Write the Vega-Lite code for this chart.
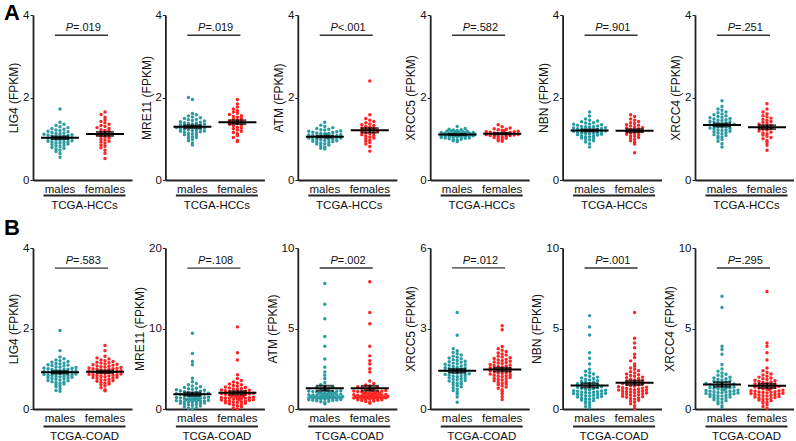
{
"$schema":"https://vega.github.io/schema/vega-lite/v6.json",
"padding":{"left":4,"top":2,"right":0,"bottom":0},
"datasets":{
"hLIG4":[{"sex":"m","fpkm":0.55},{"sex":"m","fpkm":0.64},{"sex":"m","fpkm":0.69},{"sex":"m","fpkm":0.72},{"sex":"m","fpkm":0.75},{"sex":"m","fpkm":0.77},{"sex":"m","fpkm":0.79},{"sex":"m","fpkm":0.81},{"sex":"m","fpkm":0.83},{"sex":"m","fpkm":0.84},{"sex":"m","fpkm":0.86},{"sex":"m","fpkm":0.87},{"sex":"m","fpkm":0.89},{"sex":"m","fpkm":0.9},{"sex":"m","fpkm":0.91},{"sex":"m","fpkm":0.92},{"sex":"m","fpkm":0.93},{"sex":"m","fpkm":0.94},{"sex":"m","fpkm":0.95},{"sex":"m","fpkm":0.96},{"sex":"m","fpkm":0.97},{"sex":"m","fpkm":0.98},{"sex":"m","fpkm":0.99},{"sex":"m","fpkm":1.0},{"sex":"m","fpkm":1.01},{"sex":"m","fpkm":1.03},{"sex":"m","fpkm":1.04},{"sex":"m","fpkm":1.05},{"sex":"m","fpkm":1.06},{"sex":"m","fpkm":1.07},{"sex":"m","fpkm":1.08},{"sex":"m","fpkm":1.09},{"sex":"m","fpkm":1.1},{"sex":"m","fpkm":1.11},{"sex":"m","fpkm":1.12},{"sex":"m","fpkm":1.13},{"sex":"m","fpkm":1.14},{"sex":"m","fpkm":1.15},{"sex":"m","fpkm":1.17},{"sex":"m","fpkm":1.18},{"sex":"m","fpkm":1.2},{"sex":"m","fpkm":1.21},{"sex":"m","fpkm":1.23},{"sex":"m","fpkm":1.25},{"sex":"m","fpkm":1.27},{"sex":"m","fpkm":1.29},{"sex":"m","fpkm":1.32},{"sex":"m","fpkm":1.35},{"sex":"m","fpkm":1.4},{"sex":"m","fpkm":1.72},
{"sex":"f","fpkm":0.52},{"sex":"f","fpkm":0.65},{"sex":"f","fpkm":0.72},{"sex":"f","fpkm":0.78},{"sex":"f","fpkm":0.82},{"sex":"f","fpkm":0.85},{"sex":"f","fpkm":0.89},{"sex":"f","fpkm":0.92},{"sex":"f","fpkm":0.94},{"sex":"f","fpkm":0.97},{"sex":"f","fpkm":0.99},{"sex":"f","fpkm":1.02},{"sex":"f","fpkm":1.04},{"sex":"f","fpkm":1.06},{"sex":"f","fpkm":1.09},{"sex":"f","fpkm":1.11},{"sex":"f","fpkm":1.13},{"sex":"f","fpkm":1.15},{"sex":"f","fpkm":1.18},{"sex":"f","fpkm":1.2},{"sex":"f","fpkm":1.22},{"sex":"f","fpkm":1.25},{"sex":"f","fpkm":1.27},{"sex":"f","fpkm":1.3},{"sex":"f","fpkm":1.32},{"sex":"f","fpkm":1.35},{"sex":"f","fpkm":1.39},{"sex":"f","fpkm":1.42},{"sex":"f","fpkm":1.46},{"sex":"f","fpkm":1.52},{"sex":"f","fpkm":1.59},{"sex":"f","fpkm":1.65}],
"hMRE11":[{"sex":"m","fpkm":0.85},{"sex":"m","fpkm":0.9},{"sex":"m","fpkm":0.95},{"sex":"m","fpkm":0.98},{"sex":"m","fpkm":1.01},{"sex":"m","fpkm":1.03},{"sex":"m","fpkm":1.05},{"sex":"m","fpkm":1.07},{"sex":"m","fpkm":1.09},{"sex":"m","fpkm":1.1},{"sex":"m","fpkm":1.12},{"sex":"m","fpkm":1.13},{"sex":"m","fpkm":1.15},{"sex":"m","fpkm":1.16},{"sex":"m","fpkm":1.17},{"sex":"m","fpkm":1.18},{"sex":"m","fpkm":1.19},{"sex":"m","fpkm":1.2},{"sex":"m","fpkm":1.21},{"sex":"m","fpkm":1.22},{"sex":"m","fpkm":1.23},{"sex":"m","fpkm":1.24},{"sex":"m","fpkm":1.25},{"sex":"m","fpkm":1.26},{"sex":"m","fpkm":1.27},{"sex":"m","fpkm":1.29},{"sex":"m","fpkm":1.3},{"sex":"m","fpkm":1.31},{"sex":"m","fpkm":1.32},{"sex":"m","fpkm":1.33},{"sex":"m","fpkm":1.34},{"sex":"m","fpkm":1.35},{"sex":"m","fpkm":1.36},{"sex":"m","fpkm":1.37},{"sex":"m","fpkm":1.38},{"sex":"m","fpkm":1.39},{"sex":"m","fpkm":1.4},{"sex":"m","fpkm":1.41},{"sex":"m","fpkm":1.43},{"sex":"m","fpkm":1.44},{"sex":"m","fpkm":1.46},{"sex":"m","fpkm":1.47},{"sex":"m","fpkm":1.49},{"sex":"m","fpkm":1.51},{"sex":"m","fpkm":1.53},{"sex":"m","fpkm":1.55},{"sex":"m","fpkm":1.58},{"sex":"m","fpkm":1.61},{"sex":"m","fpkm":1.95},{"sex":"m","fpkm":2.0},
{"sex":"f","fpkm":0.93},{"sex":"f","fpkm":0.96},{"sex":"f","fpkm":1.03},{"sex":"f","fpkm":1.08},{"sex":"f","fpkm":1.12},{"sex":"f","fpkm":1.15},{"sex":"f","fpkm":1.18},{"sex":"f","fpkm":1.21},{"sex":"f","fpkm":1.24},{"sex":"f","fpkm":1.26},{"sex":"f","fpkm":1.28},{"sex":"f","fpkm":1.31},{"sex":"f","fpkm":1.33},{"sex":"f","fpkm":1.35},{"sex":"f","fpkm":1.37},{"sex":"f","fpkm":1.39},{"sex":"f","fpkm":1.41},{"sex":"f","fpkm":1.43},{"sex":"f","fpkm":1.45},{"sex":"f","fpkm":1.47},{"sex":"f","fpkm":1.49},{"sex":"f","fpkm":1.52},{"sex":"f","fpkm":1.54},{"sex":"f","fpkm":1.56},{"sex":"f","fpkm":1.59},{"sex":"f","fpkm":1.62},{"sex":"f","fpkm":1.65},{"sex":"f","fpkm":1.68},{"sex":"f","fpkm":1.72},{"sex":"f","fpkm":1.77},{"sex":"f","fpkm":1.84},{"sex":"f","fpkm":1.95}],
"hATM":[{"sex":"m","fpkm":0.75},{"sex":"m","fpkm":0.77},{"sex":"m","fpkm":0.8},{"sex":"m","fpkm":0.83},{"sex":"m","fpkm":0.85},{"sex":"m","fpkm":0.87},{"sex":"m","fpkm":0.88},{"sex":"m","fpkm":0.89},{"sex":"m","fpkm":0.91},{"sex":"m","fpkm":0.92},{"sex":"m","fpkm":0.93},{"sex":"m","fpkm":0.94},{"sex":"m","fpkm":0.95},{"sex":"m","fpkm":0.96},{"sex":"m","fpkm":0.97},{"sex":"m","fpkm":0.98},{"sex":"m","fpkm":0.98},{"sex":"m","fpkm":0.99},{"sex":"m","fpkm":1.0},{"sex":"m","fpkm":1.01},{"sex":"m","fpkm":1.02},{"sex":"m","fpkm":1.02},{"sex":"m","fpkm":1.03},{"sex":"m","fpkm":1.04},{"sex":"m","fpkm":1.05},{"sex":"m","fpkm":1.05},{"sex":"m","fpkm":1.06},{"sex":"m","fpkm":1.07},{"sex":"m","fpkm":1.08},{"sex":"m","fpkm":1.08},{"sex":"m","fpkm":1.09},{"sex":"m","fpkm":1.1},{"sex":"m","fpkm":1.11},{"sex":"m","fpkm":1.12},{"sex":"m","fpkm":1.13},{"sex":"m","fpkm":1.13},{"sex":"m","fpkm":1.14},{"sex":"m","fpkm":1.15},{"sex":"m","fpkm":1.16},{"sex":"m","fpkm":1.17},{"sex":"m","fpkm":1.18},{"sex":"m","fpkm":1.19},{"sex":"m","fpkm":1.21},{"sex":"m","fpkm":1.22},{"sex":"m","fpkm":1.23},{"sex":"m","fpkm":1.25},{"sex":"m","fpkm":1.27},{"sex":"m","fpkm":1.3},{"sex":"m","fpkm":1.33},{"sex":"m","fpkm":1.4},
{"sex":"f","fpkm":0.7},{"sex":"f","fpkm":0.81},{"sex":"f","fpkm":0.87},{"sex":"f","fpkm":0.91},{"sex":"f","fpkm":0.94},{"sex":"f","fpkm":0.97},{"sex":"f","fpkm":1.0},{"sex":"f","fpkm":1.02},{"sex":"f","fpkm":1.04},{"sex":"f","fpkm":1.06},{"sex":"f","fpkm":1.08},{"sex":"f","fpkm":1.1},{"sex":"f","fpkm":1.12},{"sex":"f","fpkm":1.14},{"sex":"f","fpkm":1.15},{"sex":"f","fpkm":1.17},{"sex":"f","fpkm":1.19},{"sex":"f","fpkm":1.21},{"sex":"f","fpkm":1.22},{"sex":"f","fpkm":1.24},{"sex":"f","fpkm":1.26},{"sex":"f","fpkm":1.28},{"sex":"f","fpkm":1.3},{"sex":"f","fpkm":1.32},{"sex":"f","fpkm":1.34},{"sex":"f","fpkm":1.36},{"sex":"f","fpkm":1.39},{"sex":"f","fpkm":1.42},{"sex":"f","fpkm":1.45},{"sex":"f","fpkm":1.49},{"sex":"f","fpkm":1.58},{"sex":"f","fpkm":2.4}],
"hXRCC5":[{"sex":"m","fpkm":0.93},{"sex":"m","fpkm":0.95},{"sex":"m","fpkm":0.97},{"sex":"m","fpkm":0.98},{"sex":"m","fpkm":0.99},{"sex":"m","fpkm":1.0},{"sex":"m","fpkm":1.01},{"sex":"m","fpkm":1.02},{"sex":"m","fpkm":1.02},{"sex":"m","fpkm":1.03},{"sex":"m","fpkm":1.04},{"sex":"m","fpkm":1.04},{"sex":"m","fpkm":1.05},{"sex":"m","fpkm":1.05},{"sex":"m","fpkm":1.06},{"sex":"m","fpkm":1.06},{"sex":"m","fpkm":1.07},{"sex":"m","fpkm":1.07},{"sex":"m","fpkm":1.07},{"sex":"m","fpkm":1.08},{"sex":"m","fpkm":1.08},{"sex":"m","fpkm":1.09},{"sex":"m","fpkm":1.09},{"sex":"m","fpkm":1.09},{"sex":"m","fpkm":1.1},{"sex":"m","fpkm":1.1},{"sex":"m","fpkm":1.11},{"sex":"m","fpkm":1.11},{"sex":"m","fpkm":1.11},{"sex":"m","fpkm":1.12},{"sex":"m","fpkm":1.12},{"sex":"m","fpkm":1.13},{"sex":"m","fpkm":1.13},{"sex":"m","fpkm":1.14},{"sex":"m","fpkm":1.14},{"sex":"m","fpkm":1.14},{"sex":"m","fpkm":1.15},{"sex":"m","fpkm":1.15},{"sex":"m","fpkm":1.16},{"sex":"m","fpkm":1.17},{"sex":"m","fpkm":1.17},{"sex":"m","fpkm":1.18},{"sex":"m","fpkm":1.18},{"sex":"m","fpkm":1.19},{"sex":"m","fpkm":1.2},{"sex":"m","fpkm":1.21},{"sex":"m","fpkm":1.22},{"sex":"m","fpkm":1.23},{"sex":"m","fpkm":1.25},{"sex":"m","fpkm":1.3},
{"sex":"f","fpkm":0.94},{"sex":"f","fpkm":0.95},{"sex":"f","fpkm":0.98},{"sex":"f","fpkm":1.0},{"sex":"f","fpkm":1.01},{"sex":"f","fpkm":1.03},{"sex":"f","fpkm":1.04},{"sex":"f","fpkm":1.05},{"sex":"f","fpkm":1.06},{"sex":"f","fpkm":1.07},{"sex":"f","fpkm":1.08},{"sex":"f","fpkm":1.08},{"sex":"f","fpkm":1.09},{"sex":"f","fpkm":1.1},{"sex":"f","fpkm":1.11},{"sex":"f","fpkm":1.12},{"sex":"f","fpkm":1.12},{"sex":"f","fpkm":1.13},{"sex":"f","fpkm":1.14},{"sex":"f","fpkm":1.15},{"sex":"f","fpkm":1.16},{"sex":"f","fpkm":1.17},{"sex":"f","fpkm":1.17},{"sex":"f","fpkm":1.18},{"sex":"f","fpkm":1.19},{"sex":"f","fpkm":1.2},{"sex":"f","fpkm":1.22},{"sex":"f","fpkm":1.23},{"sex":"f","fpkm":1.24},{"sex":"f","fpkm":1.26},{"sex":"f","fpkm":1.29},{"sex":"f","fpkm":1.34}],
"hNBN":[{"sex":"m","fpkm":0.8},{"sex":"m","fpkm":0.88},{"sex":"m","fpkm":0.92},{"sex":"m","fpkm":0.95},{"sex":"m","fpkm":0.97},{"sex":"m","fpkm":0.99},{"sex":"m","fpkm":1.01},{"sex":"m","fpkm":1.02},{"sex":"m","fpkm":1.04},{"sex":"m","fpkm":1.05},{"sex":"m","fpkm":1.06},{"sex":"m","fpkm":1.07},{"sex":"m","fpkm":1.09},{"sex":"m","fpkm":1.1},{"sex":"m","fpkm":1.11},{"sex":"m","fpkm":1.12},{"sex":"m","fpkm":1.13},{"sex":"m","fpkm":1.13},{"sex":"m","fpkm":1.14},{"sex":"m","fpkm":1.15},{"sex":"m","fpkm":1.16},{"sex":"m","fpkm":1.17},{"sex":"m","fpkm":1.18},{"sex":"m","fpkm":1.19},{"sex":"m","fpkm":1.2},{"sex":"m","fpkm":1.21},{"sex":"m","fpkm":1.21},{"sex":"m","fpkm":1.22},{"sex":"m","fpkm":1.23},{"sex":"m","fpkm":1.24},{"sex":"m","fpkm":1.25},{"sex":"m","fpkm":1.26},{"sex":"m","fpkm":1.27},{"sex":"m","fpkm":1.28},{"sex":"m","fpkm":1.29},{"sex":"m","fpkm":1.29},{"sex":"m","fpkm":1.3},{"sex":"m","fpkm":1.31},{"sex":"m","fpkm":1.33},{"sex":"m","fpkm":1.34},{"sex":"m","fpkm":1.35},{"sex":"m","fpkm":1.36},{"sex":"m","fpkm":1.38},{"sex":"m","fpkm":1.39},{"sex":"m","fpkm":1.41},{"sex":"m","fpkm":1.43},{"sex":"m","fpkm":1.45},{"sex":"m","fpkm":1.48},{"sex":"m","fpkm":1.55},{"sex":"m","fpkm":1.65},
{"sex":"f","fpkm":0.66},{"sex":"f","fpkm":0.87},{"sex":"f","fpkm":0.92},{"sex":"f","fpkm":0.95},{"sex":"f","fpkm":0.98},{"sex":"f","fpkm":1.01},{"sex":"f","fpkm":1.03},{"sex":"f","fpkm":1.06},{"sex":"f","fpkm":1.07},{"sex":"f","fpkm":1.09},{"sex":"f","fpkm":1.11},{"sex":"f","fpkm":1.13},{"sex":"f","fpkm":1.14},{"sex":"f","fpkm":1.16},{"sex":"f","fpkm":1.18},{"sex":"f","fpkm":1.19},{"sex":"f","fpkm":1.21},{"sex":"f","fpkm":1.22},{"sex":"f","fpkm":1.24},{"sex":"f","fpkm":1.26},{"sex":"f","fpkm":1.27},{"sex":"f","fpkm":1.29},{"sex":"f","fpkm":1.31},{"sex":"f","fpkm":1.33},{"sex":"f","fpkm":1.34},{"sex":"f","fpkm":1.37},{"sex":"f","fpkm":1.39},{"sex":"f","fpkm":1.42},{"sex":"f","fpkm":1.45},{"sex":"f","fpkm":1.48},{"sex":"f","fpkm":1.54},{"sex":"f","fpkm":1.58}],
"hXRCC4":[{"sex":"m","fpkm":0.8},{"sex":"m","fpkm":0.88},{"sex":"m","fpkm":0.94},{"sex":"m","fpkm":0.98},{"sex":"m","fpkm":1.01},{"sex":"m","fpkm":1.04},{"sex":"m","fpkm":1.06},{"sex":"m","fpkm":1.08},{"sex":"m","fpkm":1.1},{"sex":"m","fpkm":1.12},{"sex":"m","fpkm":1.14},{"sex":"m","fpkm":1.15},{"sex":"m","fpkm":1.17},{"sex":"m","fpkm":1.18},{"sex":"m","fpkm":1.2},{"sex":"m","fpkm":1.21},{"sex":"m","fpkm":1.22},{"sex":"m","fpkm":1.24},{"sex":"m","fpkm":1.25},{"sex":"m","fpkm":1.26},{"sex":"m","fpkm":1.28},{"sex":"m","fpkm":1.29},{"sex":"m","fpkm":1.3},{"sex":"m","fpkm":1.31},{"sex":"m","fpkm":1.32},{"sex":"m","fpkm":1.34},{"sex":"m","fpkm":1.35},{"sex":"m","fpkm":1.36},{"sex":"m","fpkm":1.37},{"sex":"m","fpkm":1.39},{"sex":"m","fpkm":1.4},{"sex":"m","fpkm":1.41},{"sex":"m","fpkm":1.42},{"sex":"m","fpkm":1.44},{"sex":"m","fpkm":1.45},{"sex":"m","fpkm":1.46},{"sex":"m","fpkm":1.48},{"sex":"m","fpkm":1.49},{"sex":"m","fpkm":1.51},{"sex":"m","fpkm":1.52},{"sex":"m","fpkm":1.54},{"sex":"m","fpkm":1.56},{"sex":"m","fpkm":1.58},{"sex":"m","fpkm":1.6},{"sex":"m","fpkm":1.63},{"sex":"m","fpkm":1.65},{"sex":"m","fpkm":1.69},{"sex":"m","fpkm":1.72},{"sex":"m","fpkm":1.78},{"sex":"m","fpkm":1.92},
{"sex":"f","fpkm":0.72},{"sex":"f","fpkm":0.84},{"sex":"f","fpkm":0.91},{"sex":"f","fpkm":0.96},{"sex":"f","fpkm":1.0},{"sex":"f","fpkm":1.03},{"sex":"f","fpkm":1.06},{"sex":"f","fpkm":1.09},{"sex":"f","fpkm":1.12},{"sex":"f","fpkm":1.14},{"sex":"f","fpkm":1.16},{"sex":"f","fpkm":1.19},{"sex":"f","fpkm":1.21},{"sex":"f","fpkm":1.23},{"sex":"f","fpkm":1.25},{"sex":"f","fpkm":1.27},{"sex":"f","fpkm":1.29},{"sex":"f","fpkm":1.31},{"sex":"f","fpkm":1.33},{"sex":"f","fpkm":1.35},{"sex":"f","fpkm":1.37},{"sex":"f","fpkm":1.4},{"sex":"f","fpkm":1.42},{"sex":"f","fpkm":1.44},{"sex":"f","fpkm":1.47},{"sex":"f","fpkm":1.5},{"sex":"f","fpkm":1.53},{"sex":"f","fpkm":1.56},{"sex":"f","fpkm":1.6},{"sex":"f","fpkm":1.65},{"sex":"f","fpkm":1.72},{"sex":"f","fpkm":1.85}],
"cLIG4":[{"sex":"m","fpkm":0.44},{"sex":"m","fpkm":0.46},{"sex":"m","fpkm":0.51},{"sex":"m","fpkm":0.55},{"sex":"m","fpkm":0.58},{"sex":"m","fpkm":0.6},{"sex":"m","fpkm":0.62},{"sex":"m","fpkm":0.64},{"sex":"m","fpkm":0.66},{"sex":"m","fpkm":0.67},{"sex":"m","fpkm":0.68},{"sex":"m","fpkm":0.7},{"sex":"m","fpkm":0.71},{"sex":"m","fpkm":0.72},{"sex":"m","fpkm":0.74},{"sex":"m","fpkm":0.75},{"sex":"m","fpkm":0.76},{"sex":"m","fpkm":0.77},{"sex":"m","fpkm":0.78},{"sex":"m","fpkm":0.79},{"sex":"m","fpkm":0.8},{"sex":"m","fpkm":0.81},{"sex":"m","fpkm":0.82},{"sex":"m","fpkm":0.83},{"sex":"m","fpkm":0.83},{"sex":"m","fpkm":0.84},{"sex":"m","fpkm":0.85},{"sex":"m","fpkm":0.86},{"sex":"m","fpkm":0.87},{"sex":"m","fpkm":0.88},{"sex":"m","fpkm":0.89},{"sex":"m","fpkm":0.9},{"sex":"m","fpkm":0.9},{"sex":"m","fpkm":0.91},{"sex":"m","fpkm":0.92},{"sex":"m","fpkm":0.93},{"sex":"m","fpkm":0.94},{"sex":"m","fpkm":0.95},{"sex":"m","fpkm":0.96},{"sex":"m","fpkm":0.97},{"sex":"m","fpkm":0.98},{"sex":"m","fpkm":0.98},{"sex":"m","fpkm":0.99},{"sex":"m","fpkm":1.0},{"sex":"m","fpkm":1.01},{"sex":"m","fpkm":1.02},{"sex":"m","fpkm":1.03},{"sex":"m","fpkm":1.04},{"sex":"m","fpkm":1.05},{"sex":"m","fpkm":1.07},{"sex":"m","fpkm":1.08},{"sex":"m","fpkm":1.09},{"sex":"m","fpkm":1.1},{"sex":"m","fpkm":1.12},{"sex":"m","fpkm":1.13},{"sex":"m","fpkm":1.14},{"sex":"m","fpkm":1.16},{"sex":"m","fpkm":1.18},{"sex":"m","fpkm":1.2},{"sex":"m","fpkm":1.22},{"sex":"m","fpkm":1.25},{"sex":"m","fpkm":1.29},{"sex":"m","fpkm":1.45},{"sex":"m","fpkm":1.95},
{"sex":"f","fpkm":0.45},{"sex":"f","fpkm":0.48},{"sex":"f","fpkm":0.53},{"sex":"f","fpkm":0.57},{"sex":"f","fpkm":0.6},{"sex":"f","fpkm":0.62},{"sex":"f","fpkm":0.64},{"sex":"f","fpkm":0.66},{"sex":"f","fpkm":0.68},{"sex":"f","fpkm":0.69},{"sex":"f","fpkm":0.7},{"sex":"f","fpkm":0.72},{"sex":"f","fpkm":0.73},{"sex":"f","fpkm":0.74},{"sex":"f","fpkm":0.76},{"sex":"f","fpkm":0.77},{"sex":"f","fpkm":0.78},{"sex":"f","fpkm":0.79},{"sex":"f","fpkm":0.8},{"sex":"f","fpkm":0.81},{"sex":"f","fpkm":0.82},{"sex":"f","fpkm":0.83},{"sex":"f","fpkm":0.84},{"sex":"f","fpkm":0.85},{"sex":"f","fpkm":0.85},{"sex":"f","fpkm":0.86},{"sex":"f","fpkm":0.87},{"sex":"f","fpkm":0.88},{"sex":"f","fpkm":0.89},{"sex":"f","fpkm":0.9},{"sex":"f","fpkm":0.91},{"sex":"f","fpkm":0.92},{"sex":"f","fpkm":0.92},{"sex":"f","fpkm":0.93},{"sex":"f","fpkm":0.94},{"sex":"f","fpkm":0.95},{"sex":"f","fpkm":0.96},{"sex":"f","fpkm":0.97},{"sex":"f","fpkm":0.98},{"sex":"f","fpkm":0.99},{"sex":"f","fpkm":1.0},{"sex":"f","fpkm":1.0},{"sex":"f","fpkm":1.01},{"sex":"f","fpkm":1.02},{"sex":"f","fpkm":1.03},{"sex":"f","fpkm":1.04},{"sex":"f","fpkm":1.05},{"sex":"f","fpkm":1.06},{"sex":"f","fpkm":1.07},{"sex":"f","fpkm":1.09},{"sex":"f","fpkm":1.1},{"sex":"f","fpkm":1.11},{"sex":"f","fpkm":1.12},{"sex":"f","fpkm":1.14},{"sex":"f","fpkm":1.15},{"sex":"f","fpkm":1.16},{"sex":"f","fpkm":1.18},{"sex":"f","fpkm":1.2},{"sex":"f","fpkm":1.22},{"sex":"f","fpkm":1.24},{"sex":"f","fpkm":1.27},{"sex":"f","fpkm":1.31},{"sex":"f","fpkm":1.45},{"sex":"f","fpkm":1.58}],
"cMRE11":[{"sex":"m","fpkm":0.02},{"sex":"m","fpkm":0.08},{"sex":"m","fpkm":0.17},{"sex":"m","fpkm":0.28},{"sex":"m","fpkm":0.37},{"sex":"m","fpkm":0.44},{"sex":"m","fpkm":0.51},{"sex":"m","fpkm":0.57},{"sex":"m","fpkm":0.62},{"sex":"m","fpkm":0.67},{"sex":"m","fpkm":0.71},{"sex":"m","fpkm":0.76},{"sex":"m","fpkm":0.8},{"sex":"m","fpkm":0.84},{"sex":"m","fpkm":0.88},{"sex":"m","fpkm":0.91},{"sex":"m","fpkm":0.95},{"sex":"m","fpkm":0.98},{"sex":"m","fpkm":1.01},{"sex":"m","fpkm":1.04},{"sex":"m","fpkm":1.07},{"sex":"m","fpkm":1.11},{"sex":"m","fpkm":1.13},{"sex":"m","fpkm":1.16},{"sex":"m","fpkm":1.19},{"sex":"m","fpkm":1.22},{"sex":"m","fpkm":1.25},{"sex":"m","fpkm":1.27},{"sex":"m","fpkm":1.3},{"sex":"m","fpkm":1.33},{"sex":"m","fpkm":1.36},{"sex":"m","fpkm":1.39},{"sex":"m","fpkm":1.42},{"sex":"m","fpkm":1.46},{"sex":"m","fpkm":1.5},{"sex":"m","fpkm":1.54},{"sex":"m","fpkm":1.58},{"sex":"m","fpkm":1.62},{"sex":"m","fpkm":1.66},{"sex":"m","fpkm":1.7},{"sex":"m","fpkm":1.74},{"sex":"m","fpkm":1.78},{"sex":"m","fpkm":1.82},{"sex":"m","fpkm":1.87},{"sex":"m","fpkm":1.91},{"sex":"m","fpkm":1.96},{"sex":"m","fpkm":2.0},{"sex":"m","fpkm":2.05},{"sex":"m","fpkm":2.1},{"sex":"m","fpkm":2.15},{"sex":"m","fpkm":2.2},{"sex":"m","fpkm":2.26},{"sex":"m","fpkm":2.32},{"sex":"m","fpkm":2.38},{"sex":"m","fpkm":2.44},{"sex":"m","fpkm":2.51},{"sex":"m","fpkm":2.59},{"sex":"m","fpkm":2.67},{"sex":"m","fpkm":2.77},{"sex":"m","fpkm":2.87},{"sex":"m","fpkm":3.0},{"sex":"m","fpkm":3.16},{"sex":"m","fpkm":3.39},{"sex":"m","fpkm":3.82},{"sex":"m","fpkm":5.5},{"sex":"m","fpkm":5.9},{"sex":"m","fpkm":6.9},{"sex":"m","fpkm":9.4},
{"sex":"f","fpkm":0.03},{"sex":"f","fpkm":0.11},{"sex":"f","fpkm":0.28},{"sex":"f","fpkm":0.4},{"sex":"f","fpkm":0.5},{"sex":"f","fpkm":0.57},{"sex":"f","fpkm":0.65},{"sex":"f","fpkm":0.71},{"sex":"f","fpkm":0.77},{"sex":"f","fpkm":0.82},{"sex":"f","fpkm":0.87},{"sex":"f","fpkm":0.91},{"sex":"f","fpkm":0.96},{"sex":"f","fpkm":1.0},{"sex":"f","fpkm":1.04},{"sex":"f","fpkm":1.08},{"sex":"f","fpkm":1.11},{"sex":"f","fpkm":1.15},{"sex":"f","fpkm":1.18},{"sex":"f","fpkm":1.22},{"sex":"f","fpkm":1.25},{"sex":"f","fpkm":1.29},{"sex":"f","fpkm":1.32},{"sex":"f","fpkm":1.35},{"sex":"f","fpkm":1.38},{"sex":"f","fpkm":1.41},{"sex":"f","fpkm":1.44},{"sex":"f","fpkm":1.47},{"sex":"f","fpkm":1.5},{"sex":"f","fpkm":1.53},{"sex":"f","fpkm":1.56},{"sex":"f","fpkm":1.59},{"sex":"f","fpkm":1.62},{"sex":"f","fpkm":1.67},{"sex":"f","fpkm":1.71},{"sex":"f","fpkm":1.75},{"sex":"f","fpkm":1.8},{"sex":"f","fpkm":1.84},{"sex":"f","fpkm":1.89},{"sex":"f","fpkm":1.93},{"sex":"f","fpkm":1.97},{"sex":"f","fpkm":2.02},{"sex":"f","fpkm":2.06},{"sex":"f","fpkm":2.12},{"sex":"f","fpkm":2.16},{"sex":"f","fpkm":2.22},{"sex":"f","fpkm":2.26},{"sex":"f","fpkm":2.32},{"sex":"f","fpkm":2.37},{"sex":"f","fpkm":2.43},{"sex":"f","fpkm":2.48},{"sex":"f","fpkm":2.55},{"sex":"f","fpkm":2.61},{"sex":"f","fpkm":2.68},{"sex":"f","fpkm":2.74},{"sex":"f","fpkm":2.82},{"sex":"f","fpkm":2.91},{"sex":"f","fpkm":3.0},{"sex":"f","fpkm":3.11},{"sex":"f","fpkm":3.22},{"sex":"f","fpkm":3.36},{"sex":"f","fpkm":3.54},{"sex":"f","fpkm":3.79},{"sex":"f","fpkm":4.26},{"sex":"f","fpkm":6.1},{"sex":"f","fpkm":7.0},{"sex":"f","fpkm":10.2}],
"cATM":[{"sex":"m","fpkm":0.32},{"sex":"m","fpkm":0.4},{"sex":"m","fpkm":0.45},{"sex":"m","fpkm":0.48},{"sex":"m","fpkm":0.51},{"sex":"m","fpkm":0.53},{"sex":"m","fpkm":0.55},{"sex":"m","fpkm":0.56},{"sex":"m","fpkm":0.58},{"sex":"m","fpkm":0.59},{"sex":"m","fpkm":0.6},{"sex":"m","fpkm":0.62},{"sex":"m","fpkm":0.63},{"sex":"m","fpkm":0.64},{"sex":"m","fpkm":0.65},{"sex":"m","fpkm":0.66},{"sex":"m","fpkm":0.67},{"sex":"m","fpkm":0.68},{"sex":"m","fpkm":0.69},{"sex":"m","fpkm":0.7},{"sex":"m","fpkm":0.71},{"sex":"m","fpkm":0.72},{"sex":"m","fpkm":0.72},{"sex":"m","fpkm":0.73},{"sex":"m","fpkm":0.74},{"sex":"m","fpkm":0.75},{"sex":"m","fpkm":0.76},{"sex":"m","fpkm":0.76},{"sex":"m","fpkm":0.77},{"sex":"m","fpkm":0.78},{"sex":"m","fpkm":0.79},{"sex":"m","fpkm":0.8},{"sex":"m","fpkm":0.81},{"sex":"m","fpkm":0.82},{"sex":"m","fpkm":0.84},{"sex":"m","fpkm":0.85},{"sex":"m","fpkm":0.86},{"sex":"m","fpkm":0.88},{"sex":"m","fpkm":0.89},{"sex":"m","fpkm":0.91},{"sex":"m","fpkm":0.92},{"sex":"m","fpkm":0.93},{"sex":"m","fpkm":0.95},{"sex":"m","fpkm":0.97},{"sex":"m","fpkm":0.98},{"sex":"m","fpkm":1.0},{"sex":"m","fpkm":1.01},{"sex":"m","fpkm":1.03},{"sex":"m","fpkm":1.05},{"sex":"m","fpkm":1.06},{"sex":"m","fpkm":1.08},{"sex":"m","fpkm":1.1},{"sex":"m","fpkm":1.12},{"sex":"m","fpkm":1.14},{"sex":"m","fpkm":1.16},{"sex":"m","fpkm":1.19},{"sex":"m","fpkm":1.22},{"sex":"m","fpkm":1.25},{"sex":"m","fpkm":1.28},{"sex":"m","fpkm":1.32},{"sex":"m","fpkm":1.36},{"sex":"m","fpkm":1.42},{"sex":"m","fpkm":1.5},{"sex":"m","fpkm":1.65},{"sex":"m","fpkm":1.9},{"sex":"m","fpkm":2.1},{"sex":"m","fpkm":2.3},{"sex":"m","fpkm":2.6},{"sex":"m","fpkm":3.1},{"sex":"m","fpkm":3.9},{"sex":"m","fpkm":4.5},{"sex":"m","fpkm":5.6},{"sex":"m","fpkm":6.5},{"sex":"m","fpkm":7.8},
{"sex":"f","fpkm":0.36},{"sex":"f","fpkm":0.42},{"sex":"f","fpkm":0.47},{"sex":"f","fpkm":0.5},{"sex":"f","fpkm":0.53},{"sex":"f","fpkm":0.55},{"sex":"f","fpkm":0.57},{"sex":"f","fpkm":0.58},{"sex":"f","fpkm":0.6},{"sex":"f","fpkm":0.61},{"sex":"f","fpkm":0.62},{"sex":"f","fpkm":0.64},{"sex":"f","fpkm":0.65},{"sex":"f","fpkm":0.66},{"sex":"f","fpkm":0.67},{"sex":"f","fpkm":0.68},{"sex":"f","fpkm":0.69},{"sex":"f","fpkm":0.7},{"sex":"f","fpkm":0.71},{"sex":"f","fpkm":0.72},{"sex":"f","fpkm":0.73},{"sex":"f","fpkm":0.74},{"sex":"f","fpkm":0.74},{"sex":"f","fpkm":0.75},{"sex":"f","fpkm":0.76},{"sex":"f","fpkm":0.77},{"sex":"f","fpkm":0.78},{"sex":"f","fpkm":0.78},{"sex":"f","fpkm":0.79},{"sex":"f","fpkm":0.8},{"sex":"f","fpkm":0.81},{"sex":"f","fpkm":0.82},{"sex":"f","fpkm":0.83},{"sex":"f","fpkm":0.84},{"sex":"f","fpkm":0.86},{"sex":"f","fpkm":0.87},{"sex":"f","fpkm":0.89},{"sex":"f","fpkm":0.9},{"sex":"f","fpkm":0.92},{"sex":"f","fpkm":0.93},{"sex":"f","fpkm":0.95},{"sex":"f","fpkm":0.96},{"sex":"f","fpkm":0.98},{"sex":"f","fpkm":1.0},{"sex":"f","fpkm":1.01},{"sex":"f","fpkm":1.03},{"sex":"f","fpkm":1.05},{"sex":"f","fpkm":1.07},{"sex":"f","fpkm":1.09},{"sex":"f","fpkm":1.11},{"sex":"f","fpkm":1.12},{"sex":"f","fpkm":1.15},{"sex":"f","fpkm":1.17},{"sex":"f","fpkm":1.19},{"sex":"f","fpkm":1.22},{"sex":"f","fpkm":1.24},{"sex":"f","fpkm":1.27},{"sex":"f","fpkm":1.3},{"sex":"f","fpkm":1.34},{"sex":"f","fpkm":1.38},{"sex":"f","fpkm":1.43},{"sex":"f","fpkm":1.49},{"sex":"f","fpkm":1.58},{"sex":"f","fpkm":1.74},{"sex":"f","fpkm":2.3},{"sex":"f","fpkm":2.5},{"sex":"f","fpkm":2.8},{"sex":"f","fpkm":3.0},{"sex":"f","fpkm":3.3},{"sex":"f","fpkm":3.9},{"sex":"f","fpkm":5.3},{"sex":"f","fpkm":6.0},{"sex":"f","fpkm":7.9}],
"cXRCC5":[{"sex":"m","fpkm":0.25},{"sex":"m","fpkm":0.45},{"sex":"m","fpkm":0.56},{"sex":"m","fpkm":0.63},{"sex":"m","fpkm":0.69},{"sex":"m","fpkm":0.74},{"sex":"m","fpkm":0.79},{"sex":"m","fpkm":0.83},{"sex":"m","fpkm":0.87},{"sex":"m","fpkm":0.9},{"sex":"m","fpkm":0.93},{"sex":"m","fpkm":0.96},{"sex":"m","fpkm":0.99},{"sex":"m","fpkm":1.02},{"sex":"m","fpkm":1.04},{"sex":"m","fpkm":1.06},{"sex":"m","fpkm":1.09},{"sex":"m","fpkm":1.11},{"sex":"m","fpkm":1.13},{"sex":"m","fpkm":1.16},{"sex":"m","fpkm":1.17},{"sex":"m","fpkm":1.2},{"sex":"m","fpkm":1.22},{"sex":"m","fpkm":1.24},{"sex":"m","fpkm":1.26},{"sex":"m","fpkm":1.28},{"sex":"m","fpkm":1.29},{"sex":"m","fpkm":1.31},{"sex":"m","fpkm":1.33},{"sex":"m","fpkm":1.35},{"sex":"m","fpkm":1.37},{"sex":"m","fpkm":1.39},{"sex":"m","fpkm":1.41},{"sex":"m","fpkm":1.43},{"sex":"m","fpkm":1.45},{"sex":"m","fpkm":1.47},{"sex":"m","fpkm":1.49},{"sex":"m","fpkm":1.51},{"sex":"m","fpkm":1.53},{"sex":"m","fpkm":1.54},{"sex":"m","fpkm":1.56},{"sex":"m","fpkm":1.58},{"sex":"m","fpkm":1.6},{"sex":"m","fpkm":1.63},{"sex":"m","fpkm":1.65},{"sex":"m","fpkm":1.67},{"sex":"m","fpkm":1.69},{"sex":"m","fpkm":1.71},{"sex":"m","fpkm":1.74},{"sex":"m","fpkm":1.76},{"sex":"m","fpkm":1.78},{"sex":"m","fpkm":1.81},{"sex":"m","fpkm":1.84},{"sex":"m","fpkm":1.87},{"sex":"m","fpkm":1.9},{"sex":"m","fpkm":1.93},{"sex":"m","fpkm":1.97},{"sex":"m","fpkm":2.01},{"sex":"m","fpkm":2.06},{"sex":"m","fpkm":2.11},{"sex":"m","fpkm":2.17},{"sex":"m","fpkm":2.25},{"sex":"m","fpkm":2.75},{"sex":"m","fpkm":3.6},
{"sex":"f","fpkm":0.35},{"sex":"f","fpkm":0.46},{"sex":"f","fpkm":0.57},{"sex":"f","fpkm":0.65},{"sex":"f","fpkm":0.72},{"sex":"f","fpkm":0.77},{"sex":"f","fpkm":0.82},{"sex":"f","fpkm":0.86},{"sex":"f","fpkm":0.9},{"sex":"f","fpkm":0.93},{"sex":"f","fpkm":0.96},{"sex":"f","fpkm":0.99},{"sex":"f","fpkm":1.02},{"sex":"f","fpkm":1.05},{"sex":"f","fpkm":1.08},{"sex":"f","fpkm":1.1},{"sex":"f","fpkm":1.13},{"sex":"f","fpkm":1.15},{"sex":"f","fpkm":1.17},{"sex":"f","fpkm":1.2},{"sex":"f","fpkm":1.22},{"sex":"f","fpkm":1.24},{"sex":"f","fpkm":1.26},{"sex":"f","fpkm":1.28},{"sex":"f","fpkm":1.3},{"sex":"f","fpkm":1.32},{"sex":"f","fpkm":1.34},{"sex":"f","fpkm":1.36},{"sex":"f","fpkm":1.38},{"sex":"f","fpkm":1.4},{"sex":"f","fpkm":1.42},{"sex":"f","fpkm":1.44},{"sex":"f","fpkm":1.46},{"sex":"f","fpkm":1.48},{"sex":"f","fpkm":1.5},{"sex":"f","fpkm":1.52},{"sex":"f","fpkm":1.54},{"sex":"f","fpkm":1.56},{"sex":"f","fpkm":1.58},{"sex":"f","fpkm":1.6},{"sex":"f","fpkm":1.62},{"sex":"f","fpkm":1.64},{"sex":"f","fpkm":1.66},{"sex":"f","fpkm":1.69},{"sex":"f","fpkm":1.71},{"sex":"f","fpkm":1.73},{"sex":"f","fpkm":1.75},{"sex":"f","fpkm":1.78},{"sex":"f","fpkm":1.8},{"sex":"f","fpkm":1.83},{"sex":"f","fpkm":1.85},{"sex":"f","fpkm":1.88},{"sex":"f","fpkm":1.91},{"sex":"f","fpkm":1.94},{"sex":"f","fpkm":1.97},{"sex":"f","fpkm":2.01},{"sex":"f","fpkm":2.05},{"sex":"f","fpkm":2.09},{"sex":"f","fpkm":2.14},{"sex":"f","fpkm":2.19},{"sex":"f","fpkm":2.25},{"sex":"f","fpkm":2.33},{"sex":"f","fpkm":2.95},{"sex":"f","fpkm":3.1}],
"cNBN":[{"sex":"m","fpkm":0.08},{"sex":"m","fpkm":0.16},{"sex":"m","fpkm":0.27},{"sex":"m","fpkm":0.35},{"sex":"m","fpkm":0.42},{"sex":"m","fpkm":0.47},{"sex":"m","fpkm":0.52},{"sex":"m","fpkm":0.56},{"sex":"m","fpkm":0.6},{"sex":"m","fpkm":0.63},{"sex":"m","fpkm":0.66},{"sex":"m","fpkm":0.69},{"sex":"m","fpkm":0.72},{"sex":"m","fpkm":0.75},{"sex":"m","fpkm":0.78},{"sex":"m","fpkm":0.8},{"sex":"m","fpkm":0.83},{"sex":"m","fpkm":0.85},{"sex":"m","fpkm":0.87},{"sex":"m","fpkm":0.9},{"sex":"m","fpkm":0.92},{"sex":"m","fpkm":0.94},{"sex":"m","fpkm":0.96},{"sex":"m","fpkm":0.98},{"sex":"m","fpkm":1.0},{"sex":"m","fpkm":1.02},{"sex":"m","fpkm":1.04},{"sex":"m","fpkm":1.06},{"sex":"m","fpkm":1.08},{"sex":"m","fpkm":1.1},{"sex":"m","fpkm":1.12},{"sex":"m","fpkm":1.14},{"sex":"m","fpkm":1.17},{"sex":"m","fpkm":1.2},{"sex":"m","fpkm":1.23},{"sex":"m","fpkm":1.26},{"sex":"m","fpkm":1.29},{"sex":"m","fpkm":1.32},{"sex":"m","fpkm":1.35},{"sex":"m","fpkm":1.38},{"sex":"m","fpkm":1.41},{"sex":"m","fpkm":1.44},{"sex":"m","fpkm":1.47},{"sex":"m","fpkm":1.5},{"sex":"m","fpkm":1.53},{"sex":"m","fpkm":1.57},{"sex":"m","fpkm":1.6},{"sex":"m","fpkm":1.64},{"sex":"m","fpkm":1.68},{"sex":"m","fpkm":1.71},{"sex":"m","fpkm":1.75},{"sex":"m","fpkm":1.8},{"sex":"m","fpkm":1.84},{"sex":"m","fpkm":1.89},{"sex":"m","fpkm":1.93},{"sex":"m","fpkm":1.98},{"sex":"m","fpkm":2.04},{"sex":"m","fpkm":2.1},{"sex":"m","fpkm":2.18},{"sex":"m","fpkm":2.25},{"sex":"m","fpkm":2.35},{"sex":"m","fpkm":2.47},{"sex":"m","fpkm":2.8},{"sex":"m","fpkm":3.15},{"sex":"m","fpkm":3.5},{"sex":"m","fpkm":4.6},{"sex":"m","fpkm":5.1},{"sex":"m","fpkm":5.8},
{"sex":"f","fpkm":0.03},{"sex":"f","fpkm":0.2},{"sex":"f","fpkm":0.33},{"sex":"f","fpkm":0.42},{"sex":"f","fpkm":0.49},{"sex":"f","fpkm":0.55},{"sex":"f","fpkm":0.6},{"sex":"f","fpkm":0.65},{"sex":"f","fpkm":0.69},{"sex":"f","fpkm":0.73},{"sex":"f","fpkm":0.76},{"sex":"f","fpkm":0.79},{"sex":"f","fpkm":0.83},{"sex":"f","fpkm":0.86},{"sex":"f","fpkm":0.89},{"sex":"f","fpkm":0.92},{"sex":"f","fpkm":0.94},{"sex":"f","fpkm":0.97},{"sex":"f","fpkm":0.99},{"sex":"f","fpkm":1.02},{"sex":"f","fpkm":1.04},{"sex":"f","fpkm":1.07},{"sex":"f","fpkm":1.09},{"sex":"f","fpkm":1.11},{"sex":"f","fpkm":1.14},{"sex":"f","fpkm":1.16},{"sex":"f","fpkm":1.18},{"sex":"f","fpkm":1.2},{"sex":"f","fpkm":1.22},{"sex":"f","fpkm":1.25},{"sex":"f","fpkm":1.27},{"sex":"f","fpkm":1.29},{"sex":"f","fpkm":1.32},{"sex":"f","fpkm":1.35},{"sex":"f","fpkm":1.39},{"sex":"f","fpkm":1.42},{"sex":"f","fpkm":1.45},{"sex":"f","fpkm":1.49},{"sex":"f","fpkm":1.52},{"sex":"f","fpkm":1.56},{"sex":"f","fpkm":1.59},{"sex":"f","fpkm":1.62},{"sex":"f","fpkm":1.66},{"sex":"f","fpkm":1.7},{"sex":"f","fpkm":1.73},{"sex":"f","fpkm":1.78},{"sex":"f","fpkm":1.81},{"sex":"f","fpkm":1.85},{"sex":"f","fpkm":1.9},{"sex":"f","fpkm":1.94},{"sex":"f","fpkm":1.98},{"sex":"f","fpkm":2.03},{"sex":"f","fpkm":2.08},{"sex":"f","fpkm":2.13},{"sex":"f","fpkm":2.18},{"sex":"f","fpkm":2.24},{"sex":"f","fpkm":2.31},{"sex":"f","fpkm":2.38},{"sex":"f","fpkm":2.47},{"sex":"f","fpkm":2.55},{"sex":"f","fpkm":2.66},{"sex":"f","fpkm":2.8},{"sex":"f","fpkm":2.99},{"sex":"f","fpkm":3.2},{"sex":"f","fpkm":3.4},{"sex":"f","fpkm":3.8},{"sex":"f","fpkm":4.1},{"sex":"f","fpkm":4.4},{"sex":"f","fpkm":6.0}],
"cXRCC4":[{"sex":"m","fpkm":0.1},{"sex":"m","fpkm":0.21},{"sex":"m","fpkm":0.32},{"sex":"m","fpkm":0.4},{"sex":"m","fpkm":0.47},{"sex":"m","fpkm":0.52},{"sex":"m","fpkm":0.57},{"sex":"m","fpkm":0.61},{"sex":"m","fpkm":0.65},{"sex":"m","fpkm":0.68},{"sex":"m","fpkm":0.71},{"sex":"m","fpkm":0.74},{"sex":"m","fpkm":0.77},{"sex":"m","fpkm":0.8},{"sex":"m","fpkm":0.83},{"sex":"m","fpkm":0.85},{"sex":"m","fpkm":0.88},{"sex":"m","fpkm":0.9},{"sex":"m","fpkm":0.92},{"sex":"m","fpkm":0.95},{"sex":"m","fpkm":0.97},{"sex":"m","fpkm":0.99},{"sex":"m","fpkm":1.01},{"sex":"m","fpkm":1.03},{"sex":"m","fpkm":1.05},{"sex":"m","fpkm":1.07},{"sex":"m","fpkm":1.09},{"sex":"m","fpkm":1.11},{"sex":"m","fpkm":1.13},{"sex":"m","fpkm":1.15},{"sex":"m","fpkm":1.17},{"sex":"m","fpkm":1.19},{"sex":"m","fpkm":1.21},{"sex":"m","fpkm":1.24},{"sex":"m","fpkm":1.27},{"sex":"m","fpkm":1.29},{"sex":"m","fpkm":1.32},{"sex":"m","fpkm":1.34},{"sex":"m","fpkm":1.37},{"sex":"m","fpkm":1.4},{"sex":"m","fpkm":1.42},{"sex":"m","fpkm":1.45},{"sex":"m","fpkm":1.47},{"sex":"m","fpkm":1.51},{"sex":"m","fpkm":1.53},{"sex":"m","fpkm":1.56},{"sex":"m","fpkm":1.59},{"sex":"m","fpkm":1.62},{"sex":"m","fpkm":1.66},{"sex":"m","fpkm":1.69},{"sex":"m","fpkm":1.72},{"sex":"m","fpkm":1.76},{"sex":"m","fpkm":1.8},{"sex":"m","fpkm":1.84},{"sex":"m","fpkm":1.88},{"sex":"m","fpkm":1.92},{"sex":"m","fpkm":1.97},{"sex":"m","fpkm":2.03},{"sex":"m","fpkm":2.09},{"sex":"m","fpkm":2.16},{"sex":"m","fpkm":2.24},{"sex":"m","fpkm":2.34},{"sex":"m","fpkm":2.49},{"sex":"m","fpkm":2.77},{"sex":"m","fpkm":3.4},{"sex":"m","fpkm":3.7},{"sex":"m","fpkm":3.9},{"sex":"m","fpkm":6.3},{"sex":"m","fpkm":7.0},
{"sex":"f","fpkm":0.05},{"sex":"f","fpkm":0.16},{"sex":"f","fpkm":0.27},{"sex":"f","fpkm":0.35},{"sex":"f","fpkm":0.42},{"sex":"f","fpkm":0.47},{"sex":"f","fpkm":0.52},{"sex":"f","fpkm":0.56},{"sex":"f","fpkm":0.6},{"sex":"f","fpkm":0.63},{"sex":"f","fpkm":0.66},{"sex":"f","fpkm":0.69},{"sex":"f","fpkm":0.72},{"sex":"f","fpkm":0.75},{"sex":"f","fpkm":0.78},{"sex":"f","fpkm":0.8},{"sex":"f","fpkm":0.83},{"sex":"f","fpkm":0.85},{"sex":"f","fpkm":0.87},{"sex":"f","fpkm":0.9},{"sex":"f","fpkm":0.92},{"sex":"f","fpkm":0.94},{"sex":"f","fpkm":0.96},{"sex":"f","fpkm":0.98},{"sex":"f","fpkm":1.0},{"sex":"f","fpkm":1.02},{"sex":"f","fpkm":1.04},{"sex":"f","fpkm":1.06},{"sex":"f","fpkm":1.08},{"sex":"f","fpkm":1.1},{"sex":"f","fpkm":1.12},{"sex":"f","fpkm":1.14},{"sex":"f","fpkm":1.16},{"sex":"f","fpkm":1.19},{"sex":"f","fpkm":1.22},{"sex":"f","fpkm":1.25},{"sex":"f","fpkm":1.28},{"sex":"f","fpkm":1.3},{"sex":"f","fpkm":1.33},{"sex":"f","fpkm":1.36},{"sex":"f","fpkm":1.39},{"sex":"f","fpkm":1.42},{"sex":"f","fpkm":1.44},{"sex":"f","fpkm":1.48},{"sex":"f","fpkm":1.51},{"sex":"f","fpkm":1.54},{"sex":"f","fpkm":1.57},{"sex":"f","fpkm":1.61},{"sex":"f","fpkm":1.64},{"sex":"f","fpkm":1.68},{"sex":"f","fpkm":1.71},{"sex":"f","fpkm":1.75},{"sex":"f","fpkm":1.79},{"sex":"f","fpkm":1.84},{"sex":"f","fpkm":1.88},{"sex":"f","fpkm":1.93},{"sex":"f","fpkm":1.98},{"sex":"f","fpkm":2.04},{"sex":"f","fpkm":2.11},{"sex":"f","fpkm":2.18},{"sex":"f","fpkm":2.27},{"sex":"f","fpkm":2.38},{"sex":"f","fpkm":2.54},{"sex":"f","fpkm":3.05},{"sex":"f","fpkm":3.5},{"sex":"f","fpkm":3.9},{"sex":"f","fpkm":4.1},{"sex":"f","fpkm":7.3}]
},
"concat":[
{"width":99,"height":165,"title":{"text":"A","fontSize":22,"fontWeight":"bold","anchor":"start","frame":"group","dx":-29,"offset":-16,"color":"#000"},
"layer":[{"data":{"name":"hLIG4"},"layer":[
{"transform":[{"bin":{"step":0.08},"field":"fpkm","as":"b"},{"window":[{"op":"row_number","as":"k"}],"groupby":["sex","b"],"sort":[{"field":"fpkm"}]},{"calculate":"((datum.k - 1) % 9 % 2 ? -1 : 1) * ceil(((datum.k - 1) % 9) / 2) + (floor((datum.k - 1) / 9) % 2) * 0.5","as":"off"}],"mark":"circle","encoding":{"x":{"field":"sex","type":"nominal","sort":"descending","scale":{"type":"band"},"axis":{"title":null,"orient":"bottom"}},"xOffset":{"field":"off","type":"quantitative","scale":{"domain":[-4.5,4.5]}},"y":{"field":"fpkm","type":"quantitative","scale":{"domain":[0,4]},"axis":{"values":[0,2,4]},"title":"LIG4 (FPKM)"},"color":{"field":"sex","type":"nominal"}}},
{"mark":{"type":"tick","size":38},"encoding":{"x":{"field":"sex","type":"nominal","sort":"descending","title":null},"y":{"aggregate":"mean","field":"fpkm","type":"quantitative","title":"LIG4 (FPKM)"}}},
{"mark":"errorbar","encoding":{"x":{"field":"sex","type":"nominal","sort":"descending","title":null},"y":{"field":"fpkm","type":"quantitative","title":"LIG4 (FPKM)"}}}]},
{"data":{"values":[{"p":"=.019"}]},"layer":[
{"mark":"rule","encoding":{"x":{"datum":"m","type":"nominal","bandPosition":0.29,"scale":{"type":"band","domain":["m","f"],"range":[10,92],"paddingOuter":0},"axis":{"orient":"bottom","offset":15,"labels":false,"title":"TCGA-HCCs"}},"x2":{"datum":"f","bandPosition":0.585},"y":{"datum":3.51,"type":"quantitative"}}},
{"mark":{"type":"text","text":"P","fontStyle":"italic","align":"right","dx":-11},"encoding":{"x":{"datum":"f","type":"nominal","bandPosition":0},"y":{"datum":3.51,"type":"quantitative"}}},
{"mark":{"type":"text","align":"left","dx":-11},"encoding":{"text":{"field":"p"},"x":{"datum":"f","type":"nominal","bandPosition":0},"y":{"datum":3.51,"type":"quantitative"}}}]}],
"resolve":{"scale":{"x":"independent"},"axis":{"x":"independent"}}},
{"width":99,"height":165,
"layer":[{"data":{"name":"hMRE11"},"layer":[
{"transform":[{"bin":{"step":0.08},"field":"fpkm","as":"b"},{"window":[{"op":"row_number","as":"k"}],"groupby":["sex","b"],"sort":[{"field":"fpkm"}]},{"calculate":"((datum.k - 1) % 9 % 2 ? -1 : 1) * ceil(((datum.k - 1) % 9) / 2) + (floor((datum.k - 1) / 9) % 2) * 0.5","as":"off"}],"mark":"circle","encoding":{"x":{"field":"sex","type":"nominal","sort":"descending","scale":{"type":"band"},"axis":{"title":null,"orient":"bottom"}},"xOffset":{"field":"off","type":"quantitative","scale":{"domain":[-4.5,4.5]}},"y":{"field":"fpkm","type":"quantitative","scale":{"domain":[0,4]},"axis":{"values":[0,2,4]},"title":"MRE11 (FPKM)"},"color":{"field":"sex","type":"nominal"}}},
{"mark":{"type":"tick","size":38},"encoding":{"x":{"field":"sex","type":"nominal","sort":"descending","title":null},"y":{"aggregate":"mean","field":"fpkm","type":"quantitative","title":"MRE11 (FPKM)"}}},
{"mark":"errorbar","encoding":{"x":{"field":"sex","type":"nominal","sort":"descending","title":null},"y":{"field":"fpkm","type":"quantitative","title":"MRE11 (FPKM)"}}}]},
{"data":{"values":[{"p":"=.019"}]},"layer":[
{"mark":"rule","encoding":{"x":{"datum":"m","type":"nominal","bandPosition":0.29,"scale":{"type":"band","domain":["m","f"],"range":[10,92],"paddingOuter":0},"axis":{"orient":"bottom","offset":15,"labels":false,"title":"TCGA-HCCs"}},"x2":{"datum":"f","bandPosition":0.585},"y":{"datum":3.51,"type":"quantitative"}}},
{"mark":{"type":"text","text":"P","fontStyle":"italic","align":"right","dx":-11},"encoding":{"x":{"datum":"f","type":"nominal","bandPosition":0},"y":{"datum":3.51,"type":"quantitative"}}},
{"mark":{"type":"text","align":"left","dx":-11},"encoding":{"text":{"field":"p"},"x":{"datum":"f","type":"nominal","bandPosition":0},"y":{"datum":3.51,"type":"quantitative"}}}]}],
"resolve":{"scale":{"x":"independent"},"axis":{"x":"independent"}}},
{"width":99,"height":165,
"layer":[{"data":{"name":"hATM"},"layer":[
{"transform":[{"bin":{"step":0.08},"field":"fpkm","as":"b"},{"window":[{"op":"row_number","as":"k"}],"groupby":["sex","b"],"sort":[{"field":"fpkm"}]},{"calculate":"((datum.k - 1) % 9 % 2 ? -1 : 1) * ceil(((datum.k - 1) % 9) / 2) + (floor((datum.k - 1) / 9) % 2) * 0.5","as":"off"}],"mark":"circle","encoding":{"x":{"field":"sex","type":"nominal","sort":"descending","scale":{"type":"band"},"axis":{"title":null,"orient":"bottom"}},"xOffset":{"field":"off","type":"quantitative","scale":{"domain":[-4.5,4.5]}},"y":{"field":"fpkm","type":"quantitative","scale":{"domain":[0,4]},"axis":{"values":[0,2,4]},"title":"ATM (FPKM)"},"color":{"field":"sex","type":"nominal"}}},
{"mark":{"type":"tick","size":38},"encoding":{"x":{"field":"sex","type":"nominal","sort":"descending","title":null},"y":{"aggregate":"mean","field":"fpkm","type":"quantitative","title":"ATM (FPKM)"}}},
{"mark":"errorbar","encoding":{"x":{"field":"sex","type":"nominal","sort":"descending","title":null},"y":{"field":"fpkm","type":"quantitative","title":"ATM (FPKM)"}}}]},
{"data":{"values":[{"p":"<.001"}]},"layer":[
{"mark":"rule","encoding":{"x":{"datum":"m","type":"nominal","bandPosition":0.29,"scale":{"type":"band","domain":["m","f"],"range":[10,92],"paddingOuter":0},"axis":{"orient":"bottom","offset":15,"labels":false,"title":"TCGA-HCCs"}},"x2":{"datum":"f","bandPosition":0.585},"y":{"datum":3.51,"type":"quantitative"}}},
{"mark":{"type":"text","text":"P","fontStyle":"italic","align":"right","dx":-11},"encoding":{"x":{"datum":"f","type":"nominal","bandPosition":0},"y":{"datum":3.51,"type":"quantitative"}}},
{"mark":{"type":"text","align":"left","dx":-11},"encoding":{"text":{"field":"p"},"x":{"datum":"f","type":"nominal","bandPosition":0},"y":{"datum":3.51,"type":"quantitative"}}}]}],
"resolve":{"scale":{"x":"independent"},"axis":{"x":"independent"}}},
{"width":99,"height":165,
"layer":[{"data":{"name":"hXRCC5"},"layer":[
{"transform":[{"bin":{"step":0.08},"field":"fpkm","as":"b"},{"window":[{"op":"row_number","as":"k"}],"groupby":["sex","b"],"sort":[{"field":"fpkm"}]},{"calculate":"((datum.k - 1) % 9 % 2 ? -1 : 1) * ceil(((datum.k - 1) % 9) / 2) + (floor((datum.k - 1) / 9) % 2) * 0.5","as":"off"}],"mark":"circle","encoding":{"x":{"field":"sex","type":"nominal","sort":"descending","scale":{"type":"band"},"axis":{"title":null,"orient":"bottom"}},"xOffset":{"field":"off","type":"quantitative","scale":{"domain":[-4.5,4.5]}},"y":{"field":"fpkm","type":"quantitative","scale":{"domain":[0,4]},"axis":{"values":[0,2,4]},"title":"XRCC5 (FPKM)"},"color":{"field":"sex","type":"nominal"}}},
{"mark":{"type":"tick","size":38},"encoding":{"x":{"field":"sex","type":"nominal","sort":"descending","title":null},"y":{"aggregate":"mean","field":"fpkm","type":"quantitative","title":"XRCC5 (FPKM)"}}},
{"mark":"errorbar","encoding":{"x":{"field":"sex","type":"nominal","sort":"descending","title":null},"y":{"field":"fpkm","type":"quantitative","title":"XRCC5 (FPKM)"}}}]},
{"data":{"values":[{"p":"=.582"}]},"layer":[
{"mark":"rule","encoding":{"x":{"datum":"m","type":"nominal","bandPosition":0.29,"scale":{"type":"band","domain":["m","f"],"range":[10,92],"paddingOuter":0},"axis":{"orient":"bottom","offset":15,"labels":false,"title":"TCGA-HCCs"}},"x2":{"datum":"f","bandPosition":0.585},"y":{"datum":3.51,"type":"quantitative"}}},
{"mark":{"type":"text","text":"P","fontStyle":"italic","align":"right","dx":-11},"encoding":{"x":{"datum":"f","type":"nominal","bandPosition":0},"y":{"datum":3.51,"type":"quantitative"}}},
{"mark":{"type":"text","align":"left","dx":-11},"encoding":{"text":{"field":"p"},"x":{"datum":"f","type":"nominal","bandPosition":0},"y":{"datum":3.51,"type":"quantitative"}}}]}],
"resolve":{"scale":{"x":"independent"},"axis":{"x":"independent"}}},
{"width":99,"height":165,
"layer":[{"data":{"name":"hNBN"},"layer":[
{"transform":[{"bin":{"step":0.08},"field":"fpkm","as":"b"},{"window":[{"op":"row_number","as":"k"}],"groupby":["sex","b"],"sort":[{"field":"fpkm"}]},{"calculate":"((datum.k - 1) % 9 % 2 ? -1 : 1) * ceil(((datum.k - 1) % 9) / 2) + (floor((datum.k - 1) / 9) % 2) * 0.5","as":"off"}],"mark":"circle","encoding":{"x":{"field":"sex","type":"nominal","sort":"descending","scale":{"type":"band"},"axis":{"title":null,"orient":"bottom"}},"xOffset":{"field":"off","type":"quantitative","scale":{"domain":[-4.5,4.5]}},"y":{"field":"fpkm","type":"quantitative","scale":{"domain":[0,4]},"axis":{"values":[0,2,4]},"title":"NBN (FPKM)"},"color":{"field":"sex","type":"nominal"}}},
{"mark":{"type":"tick","size":38},"encoding":{"x":{"field":"sex","type":"nominal","sort":"descending","title":null},"y":{"aggregate":"mean","field":"fpkm","type":"quantitative","title":"NBN (FPKM)"}}},
{"mark":"errorbar","encoding":{"x":{"field":"sex","type":"nominal","sort":"descending","title":null},"y":{"field":"fpkm","type":"quantitative","title":"NBN (FPKM)"}}}]},
{"data":{"values":[{"p":"=.901"}]},"layer":[
{"mark":"rule","encoding":{"x":{"datum":"m","type":"nominal","bandPosition":0.29,"scale":{"type":"band","domain":["m","f"],"range":[10,92],"paddingOuter":0},"axis":{"orient":"bottom","offset":15,"labels":false,"title":"TCGA-HCCs"}},"x2":{"datum":"f","bandPosition":0.585},"y":{"datum":3.51,"type":"quantitative"}}},
{"mark":{"type":"text","text":"P","fontStyle":"italic","align":"right","dx":-11},"encoding":{"x":{"datum":"f","type":"nominal","bandPosition":0},"y":{"datum":3.51,"type":"quantitative"}}},
{"mark":{"type":"text","align":"left","dx":-11},"encoding":{"text":{"field":"p"},"x":{"datum":"f","type":"nominal","bandPosition":0},"y":{"datum":3.51,"type":"quantitative"}}}]}],
"resolve":{"scale":{"x":"independent"},"axis":{"x":"independent"}}},
{"width":99,"height":165,
"layer":[{"data":{"name":"hXRCC4"},"layer":[
{"transform":[{"bin":{"step":0.08},"field":"fpkm","as":"b"},{"window":[{"op":"row_number","as":"k"}],"groupby":["sex","b"],"sort":[{"field":"fpkm"}]},{"calculate":"((datum.k - 1) % 9 % 2 ? -1 : 1) * ceil(((datum.k - 1) % 9) / 2) + (floor((datum.k - 1) / 9) % 2) * 0.5","as":"off"}],"mark":"circle","encoding":{"x":{"field":"sex","type":"nominal","sort":"descending","scale":{"type":"band"},"axis":{"title":null,"orient":"bottom"}},"xOffset":{"field":"off","type":"quantitative","scale":{"domain":[-4.5,4.5]}},"y":{"field":"fpkm","type":"quantitative","scale":{"domain":[0,4]},"axis":{"values":[0,2,4]},"title":"XRCC4 (FPKM)"},"color":{"field":"sex","type":"nominal"}}},
{"mark":{"type":"tick","size":38},"encoding":{"x":{"field":"sex","type":"nominal","sort":"descending","title":null},"y":{"aggregate":"mean","field":"fpkm","type":"quantitative","title":"XRCC4 (FPKM)"}}},
{"mark":"errorbar","encoding":{"x":{"field":"sex","type":"nominal","sort":"descending","title":null},"y":{"field":"fpkm","type":"quantitative","title":"XRCC4 (FPKM)"}}}]},
{"data":{"values":[{"p":"=.251"}]},"layer":[
{"mark":"rule","encoding":{"x":{"datum":"m","type":"nominal","bandPosition":0.29,"scale":{"type":"band","domain":["m","f"],"range":[10,92],"paddingOuter":0},"axis":{"orient":"bottom","offset":15,"labels":false,"title":"TCGA-HCCs"}},"x2":{"datum":"f","bandPosition":0.585},"y":{"datum":3.51,"type":"quantitative"}}},
{"mark":{"type":"text","text":"P","fontStyle":"italic","align":"right","dx":-11},"encoding":{"x":{"datum":"f","type":"nominal","bandPosition":0},"y":{"datum":3.51,"type":"quantitative"}}},
{"mark":{"type":"text","align":"left","dx":-11},"encoding":{"text":{"field":"p"},"x":{"datum":"f","type":"nominal","bandPosition":0},"y":{"datum":3.51,"type":"quantitative"}}}]}],
"resolve":{"scale":{"x":"independent"},"axis":{"x":"independent"}}},
{"width":99,"height":161,"title":{"text":"B","fontSize":22,"fontWeight":"bold","anchor":"start","frame":"group","dx":-29,"offset":2,"color":"#000"},
"layer":[{"data":{"name":"cLIG4"},"layer":[
{"transform":[{"bin":{"step":0.08},"field":"fpkm","as":"b"},{"window":[{"op":"row_number","as":"k"}],"groupby":["sex","b"],"sort":[{"field":"fpkm"}]},{"calculate":"((datum.k - 1) % 9 % 2 ? -1 : 1) * ceil(((datum.k - 1) % 9) / 2) + (floor((datum.k - 1) / 9) % 2) * 0.5","as":"off"}],"mark":"circle","encoding":{"x":{"field":"sex","type":"nominal","sort":"descending","scale":{"type":"band"},"axis":{"title":null,"orient":"bottom"}},"xOffset":{"field":"off","type":"quantitative","scale":{"domain":[-4.5,4.5]}},"y":{"field":"fpkm","type":"quantitative","scale":{"domain":[0,4]},"axis":{"values":[0,2,4]},"title":"LIG4 (FPKM)"},"color":{"field":"sex","type":"nominal"}}},
{"mark":{"type":"tick","size":38},"encoding":{"x":{"field":"sex","type":"nominal","sort":"descending","title":null},"y":{"aggregate":"mean","field":"fpkm","type":"quantitative","title":"LIG4 (FPKM)"}}},
{"mark":"errorbar","encoding":{"x":{"field":"sex","type":"nominal","sort":"descending","title":null},"y":{"field":"fpkm","type":"quantitative","title":"LIG4 (FPKM)"}}}]},
{"data":{"values":[{"p":"=.583"}]},"layer":[
{"mark":"rule","encoding":{"x":{"datum":"m","type":"nominal","bandPosition":0.29,"scale":{"type":"band","domain":["m","f"],"range":[10,92],"paddingOuter":0},"axis":{"orient":"bottom","offset":17,"labels":false,"title":"TCGA-COAD"}},"x2":{"datum":"f","bandPosition":0.585},"y":{"datum":3.5,"type":"quantitative"}}},
{"mark":{"type":"text","text":"P","fontStyle":"italic","align":"right","dx":-11},"encoding":{"x":{"datum":"f","type":"nominal","bandPosition":0},"y":{"datum":3.5,"type":"quantitative"}}},
{"mark":{"type":"text","align":"left","dx":-11},"encoding":{"text":{"field":"p"},"x":{"datum":"f","type":"nominal","bandPosition":0},"y":{"datum":3.5,"type":"quantitative"}}}]}],
"resolve":{"scale":{"x":"independent"},"axis":{"x":"independent"}}},
{"width":99,"height":161,
"layer":[{"data":{"name":"cMRE11"},"layer":[
{"transform":[{"bin":{"step":0.4},"field":"fpkm","as":"b"},{"window":[{"op":"row_number","as":"k"}],"groupby":["sex","b"],"sort":[{"field":"fpkm"}]},{"calculate":"((datum.k - 1) % 9 % 2 ? -1 : 1) * ceil(((datum.k - 1) % 9) / 2) + (floor((datum.k - 1) / 9) % 2) * 0.5","as":"off"}],"mark":"circle","encoding":{"x":{"field":"sex","type":"nominal","sort":"descending","scale":{"type":"band"},"axis":{"title":null,"orient":"bottom"}},"xOffset":{"field":"off","type":"quantitative","scale":{"domain":[-4.5,4.5]}},"y":{"field":"fpkm","type":"quantitative","scale":{"domain":[0,20]},"axis":{"values":[0,10,20]},"title":"MRE11 (FPKM)"},"color":{"field":"sex","type":"nominal"}}},
{"mark":{"type":"tick","size":38},"encoding":{"x":{"field":"sex","type":"nominal","sort":"descending","title":null},"y":{"aggregate":"mean","field":"fpkm","type":"quantitative","title":"MRE11 (FPKM)"}}},
{"mark":"errorbar","encoding":{"x":{"field":"sex","type":"nominal","sort":"descending","title":null},"y":{"field":"fpkm","type":"quantitative","title":"MRE11 (FPKM)"}}}]},
{"data":{"values":[{"p":"=.108"}]},"layer":[
{"mark":"rule","encoding":{"x":{"datum":"m","type":"nominal","bandPosition":0.29,"scale":{"type":"band","domain":["m","f"],"range":[10,92],"paddingOuter":0},"axis":{"orient":"bottom","offset":17,"labels":false,"title":"TCGA-COAD"}},"x2":{"datum":"f","bandPosition":0.585},"y":{"datum":17.5,"type":"quantitative"}}},
{"mark":{"type":"text","text":"P","fontStyle":"italic","align":"right","dx":-11},"encoding":{"x":{"datum":"f","type":"nominal","bandPosition":0},"y":{"datum":17.5,"type":"quantitative"}}},
{"mark":{"type":"text","align":"left","dx":-11},"encoding":{"text":{"field":"p"},"x":{"datum":"f","type":"nominal","bandPosition":0},"y":{"datum":17.5,"type":"quantitative"}}}]}],
"resolve":{"scale":{"x":"independent"},"axis":{"x":"independent"}}},
{"width":99,"height":161,
"layer":[{"data":{"name":"cATM"},"layer":[
{"transform":[{"bin":{"step":0.2},"field":"fpkm","as":"b"},{"window":[{"op":"row_number","as":"k"}],"groupby":["sex","b"],"sort":[{"field":"fpkm"}]},{"calculate":"((datum.k - 1) % 9 % 2 ? -1 : 1) * ceil(((datum.k - 1) % 9) / 2) + (floor((datum.k - 1) / 9) % 2) * 0.5","as":"off"}],"mark":"circle","encoding":{"x":{"field":"sex","type":"nominal","sort":"descending","scale":{"type":"band"},"axis":{"title":null,"orient":"bottom"}},"xOffset":{"field":"off","type":"quantitative","scale":{"domain":[-4.5,4.5]}},"y":{"field":"fpkm","type":"quantitative","scale":{"domain":[0,10]},"axis":{"values":[0,5,10]},"title":"ATM (FPKM)"},"color":{"field":"sex","type":"nominal"}}},
{"mark":{"type":"tick","size":38},"encoding":{"x":{"field":"sex","type":"nominal","sort":"descending","title":null},"y":{"aggregate":"mean","field":"fpkm","type":"quantitative","title":"ATM (FPKM)"}}},
{"mark":"errorbar","encoding":{"x":{"field":"sex","type":"nominal","sort":"descending","title":null},"y":{"field":"fpkm","type":"quantitative","title":"ATM (FPKM)"}}}]},
{"data":{"values":[{"p":"=.002"}]},"layer":[
{"mark":"rule","encoding":{"x":{"datum":"m","type":"nominal","bandPosition":0.29,"scale":{"type":"band","domain":["m","f"],"range":[10,92],"paddingOuter":0},"axis":{"orient":"bottom","offset":17,"labels":false,"title":"TCGA-COAD"}},"x2":{"datum":"f","bandPosition":0.585},"y":{"datum":8.76,"type":"quantitative"}}},
{"mark":{"type":"text","text":"P","fontStyle":"italic","align":"right","dx":-11},"encoding":{"x":{"datum":"f","type":"nominal","bandPosition":0},"y":{"datum":8.76,"type":"quantitative"}}},
{"mark":{"type":"text","align":"left","dx":-11},"encoding":{"text":{"field":"p"},"x":{"datum":"f","type":"nominal","bandPosition":0},"y":{"datum":8.76,"type":"quantitative"}}}]}],
"resolve":{"scale":{"x":"independent"},"axis":{"x":"independent"}}},
{"width":99,"height":161,
"layer":[{"data":{"name":"cXRCC5"},"layer":[
{"transform":[{"bin":{"step":0.12},"field":"fpkm","as":"b"},{"window":[{"op":"row_number","as":"k"}],"groupby":["sex","b"],"sort":[{"field":"fpkm"}]},{"calculate":"((datum.k - 1) % 9 % 2 ? -1 : 1) * ceil(((datum.k - 1) % 9) / 2) + (floor((datum.k - 1) / 9) % 2) * 0.5","as":"off"}],"mark":"circle","encoding":{"x":{"field":"sex","type":"nominal","sort":"descending","scale":{"type":"band"},"axis":{"title":null,"orient":"bottom"}},"xOffset":{"field":"off","type":"quantitative","scale":{"domain":[-4.5,4.5]}},"y":{"field":"fpkm","type":"quantitative","scale":{"domain":[0,6]},"axis":{"values":[0,3,6]},"title":"XRCC5 (FPKM)"},"color":{"field":"sex","type":"nominal"}}},
{"mark":{"type":"tick","size":38},"encoding":{"x":{"field":"sex","type":"nominal","sort":"descending","title":null},"y":{"aggregate":"mean","field":"fpkm","type":"quantitative","title":"XRCC5 (FPKM)"}}},
{"mark":"errorbar","encoding":{"x":{"field":"sex","type":"nominal","sort":"descending","title":null},"y":{"field":"fpkm","type":"quantitative","title":"XRCC5 (FPKM)"}}}]},
{"data":{"values":[{"p":"=.012"}]},"layer":[
{"mark":"rule","encoding":{"x":{"datum":"m","type":"nominal","bandPosition":0.29,"scale":{"type":"band","domain":["m","f"],"range":[10,92],"paddingOuter":0},"axis":{"orient":"bottom","offset":17,"labels":false,"title":"TCGA-COAD"}},"x2":{"datum":"f","bandPosition":0.585},"y":{"datum":5.26,"type":"quantitative"}}},
{"mark":{"type":"text","text":"P","fontStyle":"italic","align":"right","dx":-11},"encoding":{"x":{"datum":"f","type":"nominal","bandPosition":0},"y":{"datum":5.26,"type":"quantitative"}}},
{"mark":{"type":"text","align":"left","dx":-11},"encoding":{"text":{"field":"p"},"x":{"datum":"f","type":"nominal","bandPosition":0},"y":{"datum":5.26,"type":"quantitative"}}}]}],
"resolve":{"scale":{"x":"independent"},"axis":{"x":"independent"}}},
{"width":99,"height":161,
"layer":[{"data":{"name":"cNBN"},"layer":[
{"transform":[{"bin":{"step":0.2},"field":"fpkm","as":"b"},{"window":[{"op":"row_number","as":"k"}],"groupby":["sex","b"],"sort":[{"field":"fpkm"}]},{"calculate":"((datum.k - 1) % 9 % 2 ? -1 : 1) * ceil(((datum.k - 1) % 9) / 2) + (floor((datum.k - 1) / 9) % 2) * 0.5","as":"off"}],"mark":"circle","encoding":{"x":{"field":"sex","type":"nominal","sort":"descending","scale":{"type":"band"},"axis":{"title":null,"orient":"bottom"}},"xOffset":{"field":"off","type":"quantitative","scale":{"domain":[-4.5,4.5]}},"y":{"field":"fpkm","type":"quantitative","scale":{"domain":[0,10]},"axis":{"values":[0,5,10]},"title":"NBN (FPKM)"},"color":{"field":"sex","type":"nominal"}}},
{"mark":{"type":"tick","size":38},"encoding":{"x":{"field":"sex","type":"nominal","sort":"descending","title":null},"y":{"aggregate":"mean","field":"fpkm","type":"quantitative","title":"NBN (FPKM)"}}},
{"mark":"errorbar","encoding":{"x":{"field":"sex","type":"nominal","sort":"descending","title":null},"y":{"field":"fpkm","type":"quantitative","title":"NBN (FPKM)"}}}]},
{"data":{"values":[{"p":"=.001"}]},"layer":[
{"mark":"rule","encoding":{"x":{"datum":"m","type":"nominal","bandPosition":0.29,"scale":{"type":"band","domain":["m","f"],"range":[10,92],"paddingOuter":0},"axis":{"orient":"bottom","offset":17,"labels":false,"title":"TCGA-COAD"}},"x2":{"datum":"f","bandPosition":0.585},"y":{"datum":8.76,"type":"quantitative"}}},
{"mark":{"type":"text","text":"P","fontStyle":"italic","align":"right","dx":-11},"encoding":{"x":{"datum":"f","type":"nominal","bandPosition":0},"y":{"datum":8.76,"type":"quantitative"}}},
{"mark":{"type":"text","align":"left","dx":-11},"encoding":{"text":{"field":"p"},"x":{"datum":"f","type":"nominal","bandPosition":0},"y":{"datum":8.76,"type":"quantitative"}}}]}],
"resolve":{"scale":{"x":"independent"},"axis":{"x":"independent"}}},
{"width":99,"height":161,
"layer":[{"data":{"name":"cXRCC4"},"layer":[
{"transform":[{"bin":{"step":0.2},"field":"fpkm","as":"b"},{"window":[{"op":"row_number","as":"k"}],"groupby":["sex","b"],"sort":[{"field":"fpkm"}]},{"calculate":"((datum.k - 1) % 9 % 2 ? -1 : 1) * ceil(((datum.k - 1) % 9) / 2) + (floor((datum.k - 1) / 9) % 2) * 0.5","as":"off"}],"mark":"circle","encoding":{"x":{"field":"sex","type":"nominal","sort":"descending","scale":{"type":"band"},"axis":{"title":null,"orient":"bottom"}},"xOffset":{"field":"off","type":"quantitative","scale":{"domain":[-4.5,4.5]}},"y":{"field":"fpkm","type":"quantitative","scale":{"domain":[0,10]},"axis":{"values":[0,5,10]},"title":"XRCC4 (FPKM)"},"color":{"field":"sex","type":"nominal"}}},
{"mark":{"type":"tick","size":38},"encoding":{"x":{"field":"sex","type":"nominal","sort":"descending","title":null},"y":{"aggregate":"mean","field":"fpkm","type":"quantitative","title":"XRCC4 (FPKM)"}}},
{"mark":"errorbar","encoding":{"x":{"field":"sex","type":"nominal","sort":"descending","title":null},"y":{"field":"fpkm","type":"quantitative","title":"XRCC4 (FPKM)"}}}]},
{"data":{"values":[{"p":"=.295"}]},"layer":[
{"mark":"rule","encoding":{"x":{"datum":"m","type":"nominal","bandPosition":0.29,"scale":{"type":"band","domain":["m","f"],"range":[10,92],"paddingOuter":0},"axis":{"orient":"bottom","offset":17,"labels":false,"title":"TCGA-COAD"}},"x2":{"datum":"f","bandPosition":0.585},"y":{"datum":8.76,"type":"quantitative"}}},
{"mark":{"type":"text","text":"P","fontStyle":"italic","align":"right","dx":-11},"encoding":{"x":{"datum":"f","type":"nominal","bandPosition":0},"y":{"datum":8.76,"type":"quantitative"}}},
{"mark":{"type":"text","align":"left","dx":-11},"encoding":{"text":{"field":"p"},"x":{"datum":"f","type":"nominal","bandPosition":0},"y":{"datum":8.76,"type":"quantitative"}}}]}],
"resolve":{"scale":{"x":"independent"},"axis":{"x":"independent"}}}
],
"columns":6,
"spacing":{"row":68,"column":33.4},
"bounds":"flush",
"config":{
"font":"Liberation Sans",
"view":{"stroke":null},
"legend":{"disable":true},
"range":{"category":["#ff2323","#2b9ba2"]},
"scale":{"bandPaddingInner":0,"bandPaddingOuter":0.39},
"axis":{"domainColor":"#222","domainWidth":1.8,"tickColor":"#222","labelColor":"#111","titleColor":"#111","labelFontSize":11.5,"titleFontSize":12,"titleFontWeight":"normal","grid":false,"labelFont":"Liberation Sans","titleFont":"Liberation Sans"},
"axisX":{"ticks":false,"tickSize":0,"labelPadding":3,"labelAngle":0,"labelExpr":"datum.value == 'm' ? 'males' : 'females'","titleFontSize":11.5,"titlePadding":4},
"axisY":{"tickSize":3,"labelPadding":1,"titlePadding":2},
"circle":{"size":12,"opacity":1},
"tick":{"color":"black","thickness":2},
"rule":{"color":"#333","strokeWidth":1.4},
"text":{"fontSize":11,"color":"#111","dy":-4,"baseline":"alphabetic"},
"errorbar":{"extent":"stderr","ticks":{"size":18,"thickness":2,"color":"black"},"rule":{"color":"black","strokeWidth":2}}
}
}
